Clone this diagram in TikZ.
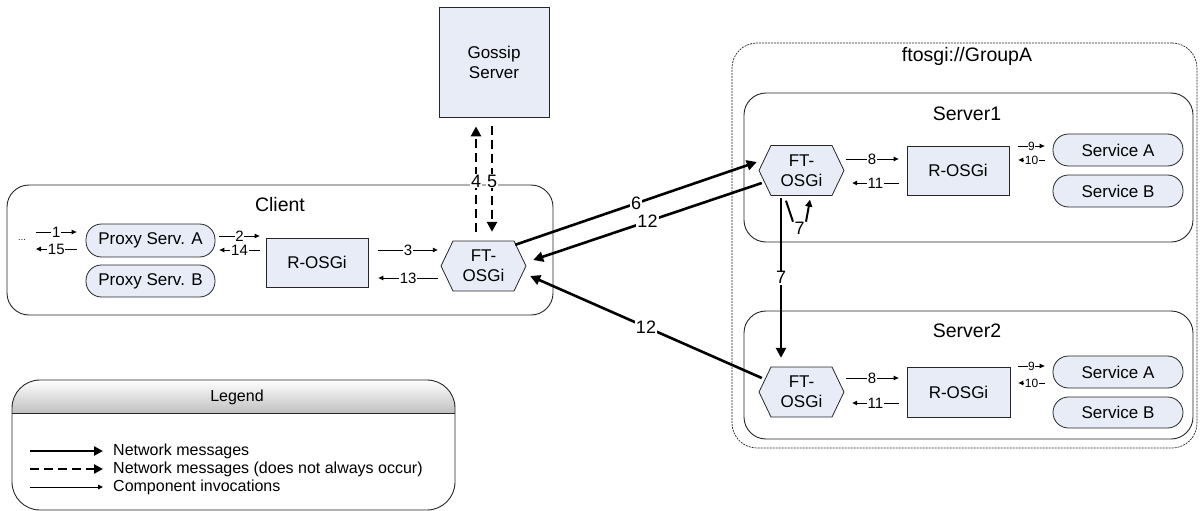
\documentclass[tikz,border=0pt]{standalone}
\usepackage{fontspec}
\setmainfont{Liberation Sans}
\usetikzlibrary{arrows.meta}
\definecolor{boxfill}{RGB}{231,236,247}
\newcommand\fsz[2]{\fontsize{#1}{#2}\selectfont}
\newcommand\hexnode[4]{%
  \draw[hexdraw] (#2-42.5,#3) -- (#2-30.5,#3-25) -- (#2+30.5,#3-25) -- (#2+42.5,#3) -- (#2+30.5,#3+25) -- (#2-30.5,#3+25) -- cycle;
  \node[hexlbl] (#1) at (#2,#3) {#4};}
\begin{document}
\begin{tikzpicture}[x=1pt,y=-1pt,
  container/.style={draw=black!85, line width=0.9pt, rounded corners=22pt, inner sep=0pt},
  group/.style={draw=black!85, line width=0.7pt, dash pattern=on 2pt off 1pt, rounded corners=25pt, inner sep=0pt},
  title/.style={font=\fsz{19.5}{22}, anchor=base, inner sep=0pt},
  box/.style={draw=black!85, fill=boxfill, line width=0.8pt, inner sep=0pt, align=center, font=\fsz{17}{20}},
  pill/.style={box, rounded corners=15.5pt},
  hexdraw/.style={draw=black!85, fill=boxfill, line width=0.8pt},
  hexlbl/.style={inner sep=0pt, minimum width=85pt, minimum height=50pt, align=center, font=\fsz{17}{20}},
  comp/.style={line width=0.9pt, -{Triangle[length=5pt,width=4.5pt]}},
  net/.style={line width=2.6pt, -{Triangle[length=10pt,width=10pt]}},
  smallnet/.style={line width=2pt, -{Triangle[length=7pt,width=7pt]}},
  netline/.style={line width=2pt},
  dnet/.style={net, dash pattern=on 9pt off 5pt},
  lbl/.style={fill=white, inner sep=0.8pt, font=\fsz{15}{15}},
  slbl/.style={fill=white, inner sep=0.5pt, font=\fsz{12}{12}},
  nlbl/.style={fill=white, inner sep=1pt, font=\fsz{18}{18}},
  legtext/.style={anchor=west, inner sep=0pt, font=\fsz{16}{18}}
]
\useasboundingbox (0,0) rectangle (1202,511);

% containers
\node[container, minimum width=546pt, minimum height=130pt] (client) at (280,250) {};
\node[title] (clientT) at (280,211) {Client};
\node[group, minimum width=465pt, minimum height=405pt] (group) at (964.5,245.5) {};
\node[title] (groupT) at (967,62) {ftosgi://GroupA};
\node[container, minimum width=449pt, minimum height=149pt] (server1) at (968.5,167.5) {};
\node[title] (server1T) at (967,120) {Server1};
\node[container, minimum width=449pt, minimum height=128pt] (server2) at (968.5,375) {};
\node[title] (server2T) at (967,337) {Server2};

% gossip server
\node[box, minimum width=110pt, minimum height=110pt] (gossip) at (494,62) {Gossip\\Server};

% client components
\node[pill, minimum width=129pt, minimum height=33pt] (proxyA) at (150.5,240.5) {Proxy Serv. A};
\node[pill, minimum width=129pt, minimum height=32pt] (proxyB) at (150.5,281) {Proxy Serv. B};
\node[box, minimum width=102pt, minimum height=49pt] (rC) at (317,262.5) {R-OSGi};
\hexnode{ftC}{483.5}{266}{FT-\\OSGi}

% server1 components
\hexnode{ft1}{801.5}{170.5}{FT-\\OSGi}
\node[box, minimum width=102pt, minimum height=49pt] (r1) at (958,170.5) {R-OSGi};
\node[pill, minimum width=130pt, minimum height=32pt] (sA1) at (1118,150) {Service A};
\node[pill, minimum width=130pt, minimum height=32pt] (sB1) at (1118,191) {Service B};

% server2 components
\hexnode{ft2}{801.5}{392}{FT-\\OSGi}
\node[box, minimum width=103pt, minimum height=50pt] (r2) at (958.5,392) {R-OSGi};
\node[pill, minimum width=130pt, minimum height=32pt] (sA2) at (1118,372) {Service A};
\node[pill, minimum width=130pt, minimum height=31pt] (sB2) at (1118,412.5) {Service B};

% client component invocations
\coordinate (in1) at (36,232);
\coordinate (out15) at (36,249);
\node[inner sep=0pt, font=\fsz{9}{9}] (dots) at (22,240) {...};
\draw[comp] (in1) -- node[lbl]{1} ([xshift=-9pt,yshift=8.5pt]proxyA.west);
\draw[comp] ([xshift=-9pt,yshift=-8.5pt]proxyA.west) -- node[lbl]{15} (out15);
\draw[comp] ([xshift=4pt,yshift=4.5pt]proxyA.east) -- node[lbl]{2} ([xshift=-6pt,yshift=26.5pt]rC.west);
\draw[comp] ([xshift=-6pt,yshift=12.5pt]rC.west) -- node[lbl]{14} ([xshift=4pt,yshift=-9.5pt]proxyA.east);
\draw[comp] ([xshift=10pt,yshift=12.5pt]rC.east) -- node[lbl]{3} ([xshift=-3pt,yshift=16pt]ftC.west);
\draw[comp] ([xshift=-3pt,yshift=-12pt]ftC.west) -- node[lbl]{13} ([xshift=10pt,yshift=-15.5pt]rC.east);

% gossip messages
\draw[dnet] ([xshift=-7.5pt,yshift=9pt]ftC.north) -- node[nlbl,pos=0.48]{4} ([xshift=-18pt,yshift=-9pt]gossip.south);
\draw[dnet] ([xshift=-2pt,yshift=-9pt]gossip.south) -- node[nlbl,pos=0.52]{5} ([xshift=8.5pt,yshift=9pt]ftC.north);

% network messages
\draw[net] ([xshift=-11pt,yshift=-4pt]ftC.north east) -- node[nlbl]{6} ([xshift=-2pt,yshift=8.5pt]ft1.west);
\draw[net] ([xshift=3pt,yshift=-12.5pt]ft1.west) -- node[nlbl]{12} ([xshift=7pt,yshift=6pt]ftC.east);
\draw[net] ([xshift=3pt,yshift=14pt]ft2.west) -- node[nlbl]{12} ([xshift=4pt,yshift=-10pt]ftC.east);
\draw[net] ([xshift=-20.5pt,yshift=-2pt]ft1.south) -- node[nlbl]{7} ([xshift=-20.5pt,yshift=9pt]ft2.north);
\draw[netline] ([xshift=-15.5pt,yshift=-5pt]ft1.south) -- ([xshift=-8.5pt,yshift=-26pt]ft1.south);
\draw[smallnet] ([xshift=4.5pt,yshift=-26pt]ft1.south) -- ([xshift=8.5pt,yshift=-4pt]ft1.south);
\node[inner sep=0pt, font=\fsz{18}{18}] (seven) at ([xshift=-2pt,yshift=-33pt]ft1.south) {7};

% server1 invocations
\draw[comp] ([xshift=1.5pt,yshift=11.5pt]ft1.east) -- node[lbl]{8} ([xshift=-8pt,yshift=11.5pt]r1.west);
\draw[comp] ([xshift=-8pt,yshift=-12.5pt]r1.west) -- node[lbl]{11} ([xshift=8pt,yshift=-12.5pt]ft1.east);
\draw[comp] ([xshift=9pt,yshift=24.5pt]r1.east) -- node[slbl]{9} ([xshift=-8pt,yshift=4pt]sA1.west);
\draw[comp] ([xshift=-8pt,yshift=-10pt]sA1.west) -- node[slbl]{10} ([xshift=9pt,yshift=10.5pt]r1.east);

% server2 invocations
\draw[comp] ([xshift=1.5pt,yshift=14pt]ft2.east) -- node[lbl]{8} ([xshift=-8pt,yshift=14pt]r2.west);
\draw[comp] ([xshift=-8pt,yshift=-11pt]r2.west) -- node[lbl]{11} ([xshift=8pt,yshift=-11pt]ft2.east);
\draw[comp] ([xshift=8pt,yshift=26pt]r2.east) -- node[slbl]{9} ([xshift=-8pt,yshift=6pt]sA2.west);
\draw[comp] ([xshift=-8pt,yshift=-11pt]sA2.west) -- node[slbl]{10} ([xshift=8pt,yshift=9pt]r2.east);

% legend
\begin{scope}
  \clip[rounded corners=28pt] (12,380) rectangle (455,510);
  \shade[top color=white, bottom color=black!25] (12,380) rectangle (455,413);
\end{scope}
\node[draw=black!85, line width=0.9pt, rounded corners=28pt, inner sep=0pt, minimum width=443pt, minimum height=130pt] (legend) at (233.5,445) {};
\draw[line width=0.8pt, draw=black!85] (12,413) -- (455,413);
\node[inner sep=0pt, font=\fsz{16}{18}] (legendT) at (237,397) {Legend};
\node[legtext] (lt1) at (113,451) {Network messages};
\node[legtext] (lt2) at (113,469) {Network messages (does not always occur)};
\node[legtext] (lt3) at (113,487) {Component invocations};
\draw[net, -{Triangle[length=9pt,width=9pt]}] ([xshift=-83pt]lt1.west) -- ([xshift=-10pt]lt1.west);
\draw[dnet, -{Triangle[length=9pt,width=9pt]}] ([xshift=-83pt]lt2.west) -- ([xshift=-10pt]lt2.west);
\draw[comp] ([xshift=-83pt]lt3.west) -- ([xshift=-10pt]lt3.west);
\end{tikzpicture}
\end{document}
